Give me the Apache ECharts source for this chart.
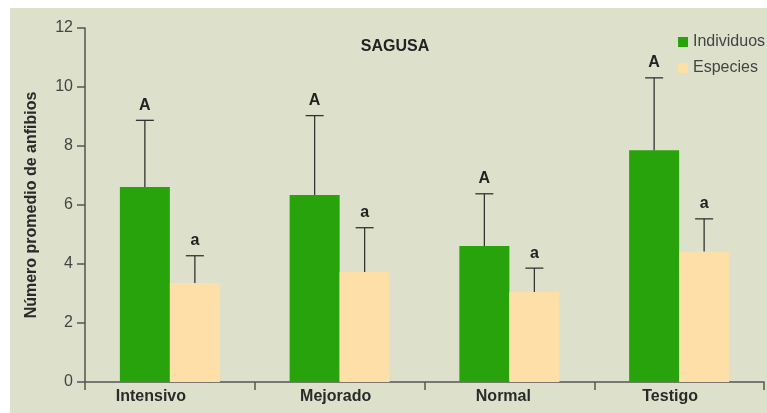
<!DOCTYPE html>
<html>
<head>
<meta charset="utf-8">
<script src="https://cdn.jsdelivr.net/npm/echarts@6/dist/echarts.min.js"></script>
<style>
html,body{margin:0;padding:0;background:#fff;}
#chart{width:767px;height:413px;}
</style>
</head>
<body>
<div id="chart"></div>
<script>
var categorias = ['Intensivo', 'Mejorado', 'Normal', 'Testigo'];
var individuos = [6.61, 6.34, 4.61, 7.86];
var individuosSup = [8.87, 9.03, 6.38, 10.31];   // extremo superior de la barra de error
var especies = [3.36, 3.73, 3.05, 4.42];
var especiesSup = [4.28, 5.23, 3.86, 5.53];
var letrasInd = ['A', 'A', 'A', 'A'];
var letrasEsp = ['a', 'a', 'a', 'a'];
var ticksY = [0, 2, 4, 6, 8, 10, 12];

var BAR_W = 50;
var fuente = '"Liberation Sans", Arial, sans-serif';

function errorData(valores, sup, letras, lado) {
	var out = [];
	for (var i = 0; i < valores.length; i++) {
		out.push([i, valores[i], sup[i], letras[i], lado]);
	}
	return out;
}

function renderError(params, api) {
	var idx = api.value(0);
	var base = api.coord([idx, api.value(1)]);
	var top = api.coord([idx, api.value(2)]);
	var lado = api.value(4);
	var x = base[0] + lado * BAR_W / 2;
	var style = { stroke: '#333', lineWidth: 1.3 };
	return {
		type: 'group',
		children: [
			{ type: 'line', shape: { x1: x, y1: base[1], x2: x, y2: top[1] }, style: style },
			{ type: 'line', shape: { x1: x - 9, y1: top[1], x2: x + 9, y2: top[1] }, style: style },
			{
				type: 'text',
				style: {
					text: api.value(3),
					x: x, y: top[1] - 7,
					align: 'center', verticalAlign: 'bottom',
					font: 'bold 16px ' + fuente,
					fill: '#222'
				}
			}
		]
	};
}

// etiquetas del eje x algo desplazadas a la izquierda, como en el original
var etiquetaRich = {
	c0: { padding: [0, 38, 0, 0] },
	c1: { padding: [0, 8, 0, 0] },
	c2: { padding: [0, 12, 0, 0] },
	c3: { padding: [0, 18, 0, 0] }
};

var myChart = echarts.init(document.getElementById('chart'));
var option = {
	backgroundColor: '#fff',
	animation: false,
	color: ['#28a30b', '#fedfa7'],
	graphic: [
		{ type: 'rect', left: 10, top: 8, shape: { width: 757, height: 405 }, style: { fill: '#dde0cb' }, z: -10 }
	],
	title: {
		text: 'SAGUSA',
		left: 390, top: 34,
		textAlign: 'center',
		textStyle: { fontFamily: fuente, fontSize: 16, fontWeight: 'bold', color: '#222' }
	},
	legend: {
		orient: 'vertical',
		left: 678, top: 34,
		padding: 0,
		itemWidth: 10, itemHeight: 10,
		itemGap: 10,
		icon: 'rect',
		data: ['Individuos', 'Especies'],
		textStyle: { fontFamily: fuente, fontSize: 16, color: '#444' }
	},
	grid: { left: 85, right: 3, top: 28, bottom: 31 },
	xAxis: {
		type: 'category',
		data: categorias,
		axisLine: { lineStyle: { color: '#555', width: 1.5 } },
		axisTick: { show: true, length: 8, alignWithLabel: false, lineStyle: { color: '#555', width: 1.5 } },
		axisLabel: {
			fontFamily: fuente, fontSize: 16, fontWeight: 'bold', color: '#2a2a2a', margin: 7,
			formatter: function (v, i) { return '{c' + i + '|' + v + '}'; },
			rich: etiquetaRich
		},
		splitLine: { show: false }
	},
	yAxis: {
		type: 'value',
		min: ticksY[0], max: ticksY[ticksY.length - 1], interval: 2,
		name: 'Número promedio de anfibios',
		nameLocation: 'middle',
		nameGap: 45,
		nameTextStyle: { fontFamily: fuente, fontSize: 16, fontWeight: 'bold', color: '#2a2a2a' },
		axisLine: { show: true, lineStyle: { color: '#555', width: 1.5 } },
		axisTick: { show: true, length: 8, lineStyle: { color: '#555', width: 1.5 } },
		axisLabel: { fontFamily: fuente, fontSize: 16, color: '#444', margin: 12 },
		splitLine: { show: false }
	},
	series: [
		{ name: 'Individuos', type: 'bar', data: individuos, barWidth: BAR_W, barGap: '0%' },
		{ name: 'Especies', type: 'bar', data: especies, barWidth: BAR_W, barGap: '0%' },
		{ type: 'custom', renderItem: renderError, data: errorData(individuos, individuosSup, letrasInd, -1), z: 5, silent: true },
		{ type: 'custom', renderItem: renderError, data: errorData(especies, especiesSup, letrasEsp, 1), z: 5, silent: true }
	]
};
myChart.setOption(option);
</script>
</body>
</html>
